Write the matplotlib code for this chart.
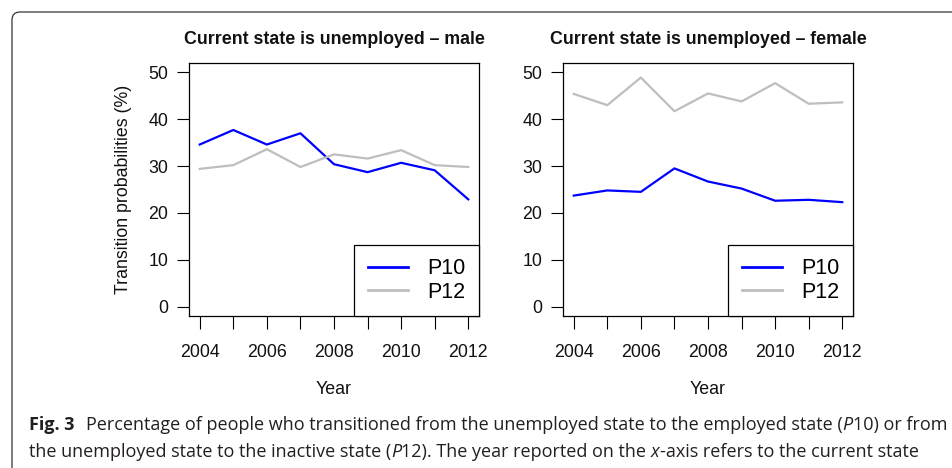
import matplotlib
matplotlib.use("Agg")
import matplotlib.pyplot as plt
from matplotlib.patches import FancyBboxPatch

years = [2004, 2005, 2006, 2007, 2008, 2009, 2010, 2011, 2012]
year_ticks = [2004, 2006, 2008, 2010, 2012]
y_ticks = [0, 10, 20, 30, 40, 50]

male_p10 = [34.6, 37.7, 34.6, 37.0, 30.4, 28.7, 30.7, 29.1, 22.9]
male_p12 = [29.4, 30.2, 33.6, 29.8, 32.5, 31.6, 33.4, 30.2, 29.8]
female_p10 = [23.7, 24.8, 24.5, 29.5, 26.7, 25.2, 22.6, 22.8, 22.3]
female_p12 = [45.4, 43.0, 48.9, 41.7, 45.5, 43.8, 47.7, 43.3, 43.6]

titles = ["Current state is unemployed \u2013 male",
          "Current state is unemployed \u2013 female"]
caption_bold = "Fig. 3"
caption_1 = ("Percentage of people who transitioned from the unemployed state "
             "to the employed state (")
caption_2 = ("the unemployed state to the inactive state (")

plt.rcParams["font.family"] = ["Liberation Sans", "DejaVu Sans"]

W, H = 953, 468
fig = plt.figure(figsize=(W / 100, H / 100), dpi=100)


def px_box(x0, y0, x1, y1):
    return [x0 / W, 1 - y1 / H, (x1 - x0) / W, (y1 - y0) / H]


panels = [
    (px_box(189, 63, 479, 316), male_p10, male_p12, titles[0], True),
    (px_box(563, 63, 853, 316), female_p10, female_p12, titles[1], False),
]

for rect, p10, p12, title, show_ylabel in panels:
    ax = fig.add_axes(rect)
    ax.plot(years, p10, color="#0000FF", lw=1.6, label="P10")
    ax.plot(years, p12, color="#BEBEBE", lw=1.6, label="P12")
    ax.set_xlim(2004 - 0.32, 2012 + 0.32)
    ax.set_ylim(-2, 52)
    ax.set_xticks(years)
    ax.set_xticklabels([str(y) if y in year_ticks else "" for y in years])
    ax.set_yticks(y_ticks)
    ax.tick_params(axis="both", direction="out", width=0.8, color="black",
                   labelsize=12.8, labelcolor="#111111")
    ax.tick_params(axis="y", length=8.6, pad=6.5)
    ax.tick_params(axis="x", length=9.4, pad=11)
    for sp in ax.spines.values():
        sp.set_linewidth(0.9)
        sp.set_color("black")
    ax.set_title(title, fontsize=12.8, fontweight="bold", pad=13.5,
                 color="#111111")
    ax.set_xlabel("Year", fontsize=12.8, color="#111111")
    ax.xaxis.set_label_coords(0.5, -0.255)
    if show_ylabel:
        ax.set_ylabel("Transition probabilities (%)", fontsize=12.8,
                      color="#111111")
        ax.yaxis.set_label_coords(-0.196, 0.5)
    leg = ax.legend(loc="lower right", bbox_to_anchor=(1, 0),
                    borderaxespad=0, fancybox=False, edgecolor="black",
                    framealpha=1, fontsize=15.5, handlelength=1.9,
                    handletextpad=0.88, borderpad=0.62, labelspacing=0.1)
    leg.get_frame().set_linewidth(0.9)
    for line in leg.get_lines():
        line.set_linewidth(2.0)

# figure frame with a rounded corner (runs off the right and bottom edges)
frame = FancyBboxPatch((0.12, -0.5), 10.0, (H - 12) / 100 + 0.5,
                       boxstyle="round,pad=0,rounding_size=0.08",
                       transform=fig.dpi_scale_trans, fill=False,
                       edgecolor="#333333", lw=0.9)
fig.patches.append(frame)

cap_font = ["Open Sans", "DejaVu Sans"]
cap_size = 12.95
cap_color = "#231f20"
fig.text(29 / W, 1 - 425 / H, caption_bold, fontsize=cap_size,
         fontweight="bold", family=cap_font, color=cap_color, va="center")
t1 = fig.text(86 / W, 1 - 425 / H, caption_1, fontsize=cap_size,
              family=cap_font, color=cap_color, va="center")
t2 = fig.text(29 / W, 1 - 452 / H, caption_2, fontsize=cap_size,
              family=cap_font, color=cap_color, va="center")

# italic P-symbols and the rest of each caption line
fig.canvas.draw()
renderer = fig.canvas.get_renderer()


def after(text_obj, parts):
    bb = text_obj.get_window_extent(renderer)
    x = bb.x1
    y = text_obj.get_position()[1]
    last = None
    for s, style in parts:
        last = fig.text(x / W, y, s, fontsize=cap_size, family=cap_font,
                        style=style, color=cap_color, va="center")
        x = last.get_window_extent(renderer).x1
    return last


after(t1, [("P", "italic"), ("10) or from", "normal")])
after(t2, [("P", "italic"), ("12). The year reported on the ", "normal"),
           ("x", "italic"), ("-axis refers to the current state", "normal")])

fig.savefig("out.png", dpi=100)
